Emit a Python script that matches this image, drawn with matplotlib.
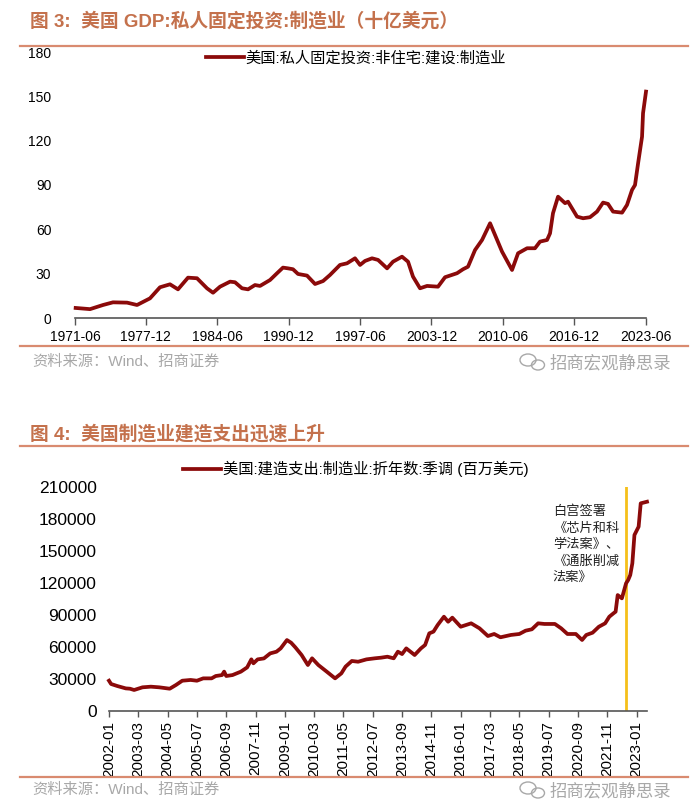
import matplotlib.pyplot as plt
from matplotlib.patches import Ellipse
from matplotlib.lines import Line2D

# chart 1: US private fixed investment, manufacturing structures (bn USD), decimal years
gdp_years = [1971.56, 1972.87, 1974.05, 1974.96, 1976.24, 1977.15, 1978.33, 1979.24, 1980.15,
             1980.88, 1981.79, 1982.61, 1983.52, 1984.07, 1984.71, 1985.62, 1986.07, 1986.71,
             1987.26, 1987.89, 1988.35, 1989.26, 1989.90, 1990.44, 1990.90, 1991.35, 1991.81,
             1992.63, 1993.36, 1994.09, 1994.72, 1995.63, 1996.27, 1997.00, 1997.46, 1997.91,
             1998.55, 1999.10, 1999.92, 2000.46, 2001.28, 2001.83, 2002.28, 2002.92, 2003.56,
             2004.56, 2005.20, 2006.29, 2006.84, 2007.29, 2007.93, 2008.57, 2009.30, 2009.75,
             2010.39, 2011.30, 2011.85, 2012.67, 2013.39, 2013.85, 2014.49, 2014.76, 2015.03,
             2015.49, 2016.13, 2016.40, 2017.22, 2017.77, 2018.40, 2019.04, 2019.59, 2020.04,
             2020.50, 2021.32, 2021.77, 2022.23, 2022.50, 2022.78, 2023.14, 2023.23, 2023.50]
gdp_values = [6.8, 6.0, 8.8, 10.6, 10.4, 8.8, 13.3, 20.8, 22.8,
              19.4, 27.3, 26.9, 20.1, 17.1, 21.2, 24.6, 24.2, 20.1,
              19.4, 22.3, 21.7, 25.7, 30.3, 34.1, 33.6, 33.0, 29.8,
              28.7, 23.0, 25.0, 29.1, 35.9, 37.0, 40.4, 35.9, 38.6,
              40.4, 39.3, 33.6, 38.1, 41.5, 38.1, 28.0, 20.1, 21.7,
              21.2, 27.6, 30.3, 33.0, 34.7, 46.0, 52.8, 64.1, 56.2,
              44.9, 32.5, 43.8, 47.2, 47.2, 51.7, 52.8, 57.3, 70.9,
              82.1, 77.7, 78.7, 68.6, 67.5, 68.2, 72.0, 78.1, 77.2,
              72.0, 71.3, 76.5, 86.7, 90.0, 104.7, 122.7, 138.6, 153.2]
gdp_tick_pos = [1971.5, 1977.96, 1984.46, 1990.96, 1997.46, 2003.96, 2010.46, 2016.96, 2023.46]
gdp_tick_labels = ['1971-06', '1977-12', '1984-06', '1990-12', '1997-06',
                   '2003-12', '2010-06', '2016-12', '2023-06']

# chart 2: construction spending, manufacturing, SAAR (mn USD), months since 2002-01
cs_months = [0, 1, 4, 8, 10, 12, 16, 20, 24, 29, 32, 35, 39, 42, 45, 49, 51, 54, 55, 56,
             59, 63, 66, 68, 69, 71, 74, 77, 80, 82, 85, 87, 89, 92, 95, 97, 100, 104, 108,
             111, 113, 116, 119, 123, 127, 130, 133, 136, 138, 140, 142, 146, 149, 151, 153,
             155, 157, 160, 162, 164, 168, 173, 177, 181, 184, 187, 192, 196, 199, 202, 205,
             208, 213, 216, 219, 223, 226, 228, 231, 234, 237, 239, 241, 242, 243, 245, 247,
             248, 249, 250, 251, 253, 254, 257]
cs_values = [28400, 25300, 23400, 21200, 20900, 19700, 22200, 22800, 22200, 20900, 24400,
             28400, 29100, 28400, 30600, 30600, 32800, 33700, 36900, 32800, 33700, 36900,
             40900, 48400, 44700, 48400, 49300, 54000, 55600, 58700, 66500, 64000, 59700,
             52500, 43100, 49400, 43100, 36900, 30600, 35300, 41600, 46900, 46200, 48400,
             49400, 50000, 50900, 49400, 55600, 53400, 58700, 52500, 58700, 61900, 72800,
             74400, 80600, 88400, 83700, 87500, 79000, 82200, 77500, 70300, 72200, 69100,
             71300, 72200, 75300, 76600, 82200, 81600, 81600, 77500, 72200, 72200, 66600,
             71300, 73400, 79000, 82200, 88400, 91600, 93100, 108700, 105600, 119700,
             122800, 127500, 138500, 165000, 172800, 194700, 196200]
cs_tick_labels = ['2002-01', '2003-03', '2004-05', '2005-07', '2006-09', '2007-11', '2009-01',
                  '2010-03', '2011-05', '2012-07', '2013-09', '2014-11', '2016-01', '2017-03',
                  '2018-05', '2019-07', '2020-09', '2021-11', '2023-01']
chips_act_month = 247  # 2022-08

FONTS = ['Liberation Sans', 'Noto Sans CJK SC']
LINE_RED = '#8b0a0a'
TITLE_C = '#c4714c'
RULE_C = '#d98b70'
GREY = '#a8a8a8'

W, H = 700, 808
fig = plt.figure(figsize=(7, 8.08), dpi=100)


def fx(px):
    return px / W


def fy(py):
    return 1 - py / H


def header(title, y_title, y_rule):
    fig.text(fx(30), fy(y_title), title, family=FONTS, fontsize=13.5, fontweight='bold',
             color=TITLE_C, va='center', ha='left')
    fig.add_artist(Line2D([fx(20), fx(688)], [fy(y_rule)] * 2, color=RULE_C, lw=1.6))


def footer(y_rule, y_text):
    fig.add_artist(Line2D([fx(20), fx(688)], [fy(y_rule)] * 2, color=RULE_C, lw=1.6))
    fig.text(fx(32), fy(y_text), '资料来源：Wind、招商证券', family=FONTS, fontsize=11,
             color=GREY, va='center', ha='left')
    fig.text(fx(550), fy(y_text + 1), '招商宏观静思录', family=FONTS, fontsize=12.5,
             color=GREY, va='center', ha='left')
    fig.add_artist(Ellipse((fx(528), fy(y_text - 2)), fx(16), 12 / H, fill=False,
                           ec=GREY, lw=1.0, transform=fig.transFigure))
    fig.add_artist(Ellipse((fx(538), fy(y_text + 3)), fx(13), 10 / H, fill=False,
                           ec=GREY, lw=1.0, transform=fig.transFigure))


def style_axes(ax, tick_size, pad):
    for s in ['top', 'right', 'left']:
        ax.spines[s].set_visible(False)
    ax.spines['bottom'].set_color('#555555')
    ax.spines['bottom'].set_linewidth(1.2)
    ax.tick_params(axis='y', length=0, pad=pad, labelsize=tick_size)
    ax.tick_params(axis='x', direction='out', length=5, width=1, color='#555555',
                   labelsize=tick_size)
    for lab in ax.get_xticklabels() + ax.get_yticklabels():
        lab.set_family(FONTS)


# ---------- chart 1 ----------
header('图 3:  美国 GDP:私人固定投资:制造业（十亿美元）', 21, 46)
ax1 = fig.add_axes([fx(75), fy(318), fx(646 - 75), (318 - 52) / H])
ax1.plot(gdp_years, gdp_values, color=LINE_RED, lw=2.7, solid_joinstyle='round',
         clip_on=False, label='美国:私人固定投资:非住宅:建设:制造业')
ax1.set_xlim(1971.5, 2023.5)
ax1.set_ylim(0, 180)
ax1.set_yticks(range(0, 181, 30))
ax1.set_xticks(gdp_tick_pos)
ax1.set_xticklabels(gdp_tick_labels)
style_axes(ax1, 10, 17)
ax1.legend(loc='center left', bbox_to_anchor=(fx(206), fy(58)),
           bbox_transform=fig.transFigure, frameon=False, handlelength=2.5,
           handletextpad=0.1, borderpad=0, borderaxespad=0,
           prop={'family': FONTS, 'size': 11})
footer(346, 362)

# ---------- chart 2 ----------
header('图 4:  美国制造业建造支出迅速上升', 434, 446)
ax2 = fig.add_axes([fx(109), fy(711), fx(647 - 109), (711 - 487) / H])
ax2.axvline(chips_act_month, color='#f5c01a', lw=2.0, zorder=1)
ax2.plot(cs_months, cs_values, color=LINE_RED, lw=2.7, solid_joinstyle='round', zorder=2,
         clip_on=False, label='美国:建造支出:制造业:折年数:季调 (百万美元)')
ax2.set_xlim(0, 257)
ax2.set_ylim(0, 210000)
ax2.set_yticks(range(0, 210001, 30000))
ax2.set_xticks(range(0, 253, 14))
ax2.set_xticklabels(cs_tick_labels, rotation=90)
style_axes(ax2, 11, 10)
ax2.tick_params(axis='x', length=4, pad=3)
ax2.tick_params(axis='y', labelsize=12.5, pad=9)
ax2.text(0.825, 0.92, '白宫签署\n《芯片和科\n学法案》、\n《通胀削减\n法案》',
         transform=ax2.transAxes, family=['Noto Sans CJK SC'], fontsize=9.5,
         va='top', ha='left', linespacing=1.35, color='#222222')
ax2.legend(loc='center left', bbox_to_anchor=(fx(183), fy(469)),
           bbox_transform=fig.transFigure, frameon=False, handlelength=2.5,
           handletextpad=0.1, borderpad=0, borderaxespad=0,
           prop={'family': FONTS, 'size': 11})
footer(777, 790)

fig.savefig('out.png', dpi=100)
